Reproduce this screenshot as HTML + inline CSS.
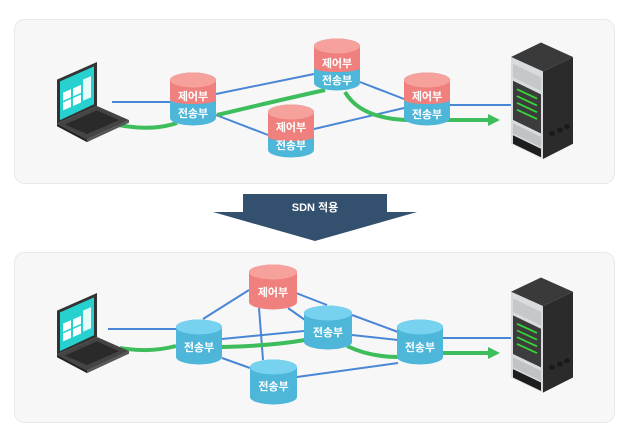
<!DOCTYPE html>
<html><head><meta charset="utf-8"><style>
html,body{margin:0;padding:0;background:#fff;}
svg{display:block;}
text{font-family:"Liberation Sans","Noto Sans CJK KR",sans-serif;font-weight:bold;fill:#fff;font-size:11px;text-anchor:middle;dominant-baseline:central;}
</style></head><body>
<svg width="630" height="433" viewBox="0 0 630 433" xmlns="http://www.w3.org/2000/svg">
<defs>
<g id="laptop">
 <polygon points="0,20 40,0 40,50 0,70" fill="#333"/>
 <polygon points="3,22 37,5 37,48 3,66" fill="#27d1cf"/>
 <polygon points="6,35 14,31 14,40 6,44" fill="#fff"/>
 <polygon points="16,30 24,26 24,35 16,39" fill="#fff"/>
 <polygon points="6,46 14,42 14,51 6,55" fill="#fff"/>
 <polygon points="16,41 24,37 24,46 16,50" fill="#fff"/>
 <polygon points="26,20 34,16 34,40 26,44" fill="#e8fbfb"/>
 <polygon points="0,70 40,50 72,66 30,88" fill="#444"/>
 <polygon points="8,71 40,55 62,66 30,82" fill="#2a2a2a"/>
 <polygon points="0,70 30,88 30,91 0,73" fill="#222"/>
 <polygon points="30,88 72,66 72,69 30,91" fill="#555"/>
</g>
<g id="server">
 <polygon points="0,20 30,3 62,20 32,37" fill="#3a3a3a"/>
 <polygon points="0,20 32,37 32,140 0,122" fill="#d9dcde"/>
 <polygon points="32,37 62,20 62,122 32,140" fill="#2b2b2b"/>
 <polygon points="2,28 30,44 30,60 2,44" fill="#c4c8cb"/>
 <polygon points="2,48 30,64 30,110 2,94" fill="#3c3c3c"/>
 <line x1="6" y1="58" x2="26" y2="69" stroke="#36d63a" stroke-width="2"/>
 <line x1="6" y1="66" x2="26" y2="77" stroke="#36d63a" stroke-width="2"/>
 <line x1="6" y1="74" x2="26" y2="85" stroke="#36d63a" stroke-width="2"/>
 <line x1="6" y1="82" x2="26" y2="93" stroke="#36d63a" stroke-width="2"/>
 <polygon points="2,98 30,114 30,126 2,110" fill="#bfc3c6"/>
 <polygon points="2,112 30,128 30,138 2,122" fill="#1e1e1e"/>
 <circle cx="41" cy="110" r="3" fill="#1a1a1a"/><circle cx="49" cy="106" r="3" fill="#1a1a1a"/><circle cx="56" cy="102" r="3" fill="#1a1a1a"/>
</g>
</defs>
<rect x="14.5" y="19.5" width="600" height="164" rx="10" fill="#f7f7f7" stroke="#e8e8e8"/>
<rect x="14.5" y="252.5" width="600" height="170" rx="10" fill="#f7f7f7" stroke="#e8e8e8"/>
<polygon points="243,194 387,194 387,212 417,212 315,241 213,212 243,212" fill="#34506f"/>
<text x="315" y="208" font-size="12">SDN 적용</text>

<!-- top lines -->
<g stroke="#4a86d6" stroke-width="2" fill="none">
 <line x1="112" y1="102" x2="172" y2="102"/>
 <line x1="216" y1="94" x2="314" y2="74"/>
 <line x1="216" y1="115" x2="268" y2="135"/>
 <line x1="360" y1="82" x2="404" y2="99"/>
 <line x1="314" y1="129" x2="404" y2="108"/>
 <line x1="450" y1="105" x2="512" y2="105"/>
</g>
<g stroke="#3dbd5b" stroke-width="4" fill="none">
 <path d="M114,124 Q150,132 177,123"/>
 <path d="M217,115 Q280,100 325,90"/>
 <path d="M345,92 Q360,118 406,120 L490,120"/>
</g>
<polygon points="488,114 500,120 488,126" fill="#3dbd5b"/>

<g>
 <path d="M170,80 A23,7.5 0 0 1 216,80 L216,118 A23,7.5 0 0 1 170,118 Z" fill="#4db6d9"/>
 <path d="M170,80 A23,7.5 0 0 1 216,80 L216,100 A23,4 0 0 1 170,100 Z" fill="#f0807d"/>
 <ellipse cx="193" cy="80" rx="23" ry="7.5" fill="#f6a19c"/>
 <text x="193" y="97">제어부</text><text x="193" y="114">전송부</text>
</g>
<g>
 <path d="M314,46 A23,7.5 0 0 1 360,46 L360,83 A23,7.5 0 0 1 314,83 Z" fill="#4db6d9"/>
 <path d="M314,46 A23,7.5 0 0 1 360,46 L360,68 A23,4 0 0 1 314,68 Z" fill="#f0807d"/>
 <ellipse cx="337" cy="46" rx="23" ry="7.5" fill="#f6a19c"/>
 <text x="337" y="64">제어부</text><text x="337" y="81">전송부</text>
</g>
<g>
 <path d="M268,112 A23,7.5 0 0 1 314,112 L314,150 A23,7.5 0 0 1 268,150 Z" fill="#4db6d9"/>
 <path d="M268,112 A23,7.5 0 0 1 314,112 L314,137 A23,4 0 0 1 268,137 Z" fill="#f0807d"/>
 <ellipse cx="291" cy="112" rx="23" ry="7.5" fill="#f6a19c"/>
 <text x="291" y="128">제어부</text><text x="291" y="146">전송부</text>
</g>
<g>
 <path d="M404,80 A23,7.5 0 0 1 450,80 L450,118 A23,7.5 0 0 1 404,118 Z" fill="#4db6d9"/>
 <path d="M404,80 A23,7.5 0 0 1 450,80 L450,100 A23,4 0 0 1 404,100 Z" fill="#f0807d"/>
 <ellipse cx="427" cy="80" rx="23" ry="7.5" fill="#f6a19c"/>
 <text x="427" y="97">제어부</text><text x="427" y="115">전송부</text>
</g>
<use href="#laptop" transform="translate(57,62) scale(1,0.88)"/>
<use href="#server" transform="translate(511,40) scale(1,0.85)"/>

<!-- bottom lines -->
<g stroke="#4a86d6" stroke-width="2" fill="none">
 <line x1="108" y1="329" x2="176" y2="329"/>
 <line x1="203" y1="319" x2="249" y2="290"/>
 <line x1="259" y1="308" x2="263" y2="360"/>
 <line x1="296" y1="293" x2="327" y2="305"/>
 <line x1="288" y1="308" x2="305" y2="320"/>
 <line x1="222" y1="339" x2="304" y2="331"/>
 <line x1="352" y1="315" x2="398" y2="332"/>
 <line x1="352" y1="335" x2="398" y2="340"/>
 <line x1="222" y1="358" x2="250" y2="368"/>
 <line x1="297" y1="377" x2="398" y2="363"/>
 <line x1="443" y1="338" x2="512" y2="338"/>
</g>
<g stroke="#3dbd5b" stroke-width="4" fill="none">
 <path d="M120,348 Q150,353 176,346"/>
 <path d="M222,347 Q270,346 305,340"/>
 <path d="M347,346 Q370,357 398,357"/>
 <path d="M443,353 L490,353"/>
</g>
<polygon points="488,347 500,353 488,359" fill="#3dbd5b"/>

<g>
 <path d="M249,272 A24,7.5 0 0 1 297,272 L297,302 A24,7.5 0 0 1 249,302 Z" fill="#f0807d"/>
 <ellipse cx="273" cy="272" rx="24" ry="7.5" fill="#f6a19c"/>
 <text x="273" y="293">제어부</text>
</g>
<g>
 <path d="M304,313 A24,7.5 0 0 1 352,313 L352,342 A24,7.5 0 0 1 304,342 Z" fill="#4db6d9"/>
 <ellipse cx="328" cy="313" rx="24" ry="7.5" fill="#76d2ef"/>
 <text x="328" y="333">전송부</text>
</g>
<g>
 <path d="M176,327 A23,7.5 0 0 1 222,327 L222,357 A23,7.5 0 0 1 176,357 Z" fill="#4db6d9"/>
 <ellipse cx="199" cy="327" rx="23" ry="7.5" fill="#76d2ef"/>
 <text x="199" y="348">전송부</text>
</g>
<g>
 <path d="M397,327 A23,7.5 0 0 1 443,327 L443,357 A23,7.5 0 0 1 397,357 Z" fill="#4db6d9"/>
 <ellipse cx="420" cy="327" rx="23" ry="7.5" fill="#76d2ef"/>
 <text x="420" y="348">전송부</text>
</g>
<g>
 <path d="M250,367 A23.5,7.5 0 0 1 297,367 L297,397 A23.5,7.5 0 0 1 250,397 Z" fill="#4db6d9"/>
 <ellipse cx="273.5" cy="367" rx="23.5" ry="7.5" fill="#76d2ef"/>
 <text x="273.5" y="387">전송부</text>
</g>
<use href="#laptop" transform="translate(57,293) scale(1,0.88)"/>
<use href="#server" transform="translate(511,275) scale(1,0.84)"/>
</svg>
</body></html>
